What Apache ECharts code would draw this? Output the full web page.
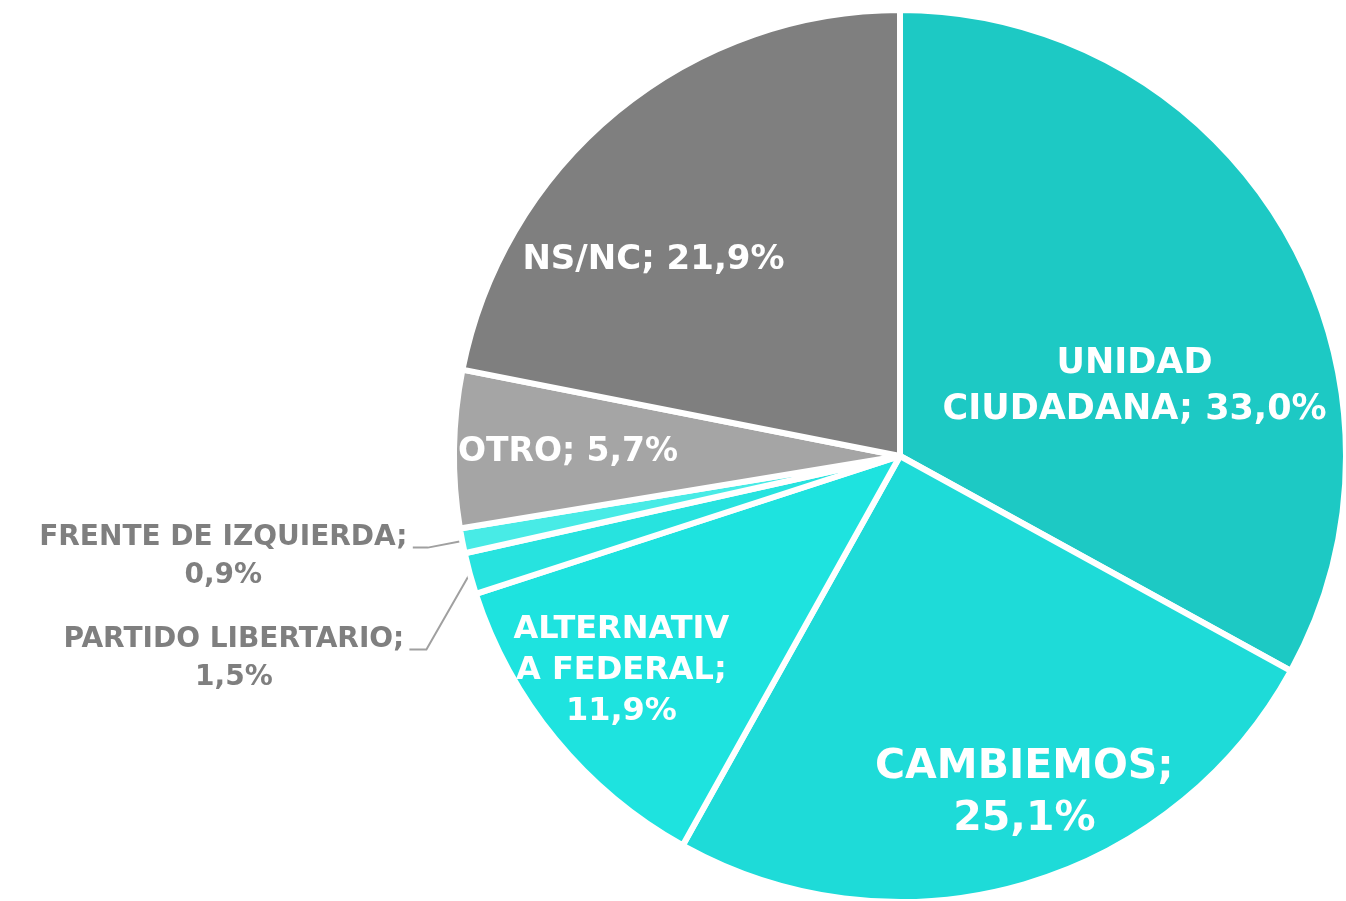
<!DOCTYPE html>
<html>
<head>
<meta charset="utf-8">
<script src="https://cdn.jsdelivr.net/npm/echarts@6/dist/echarts.min.js"></script>
<style>
html,body{margin:0;padding:0;background:#fff;}
#chart{width:1346px;height:901px;}
</style>
</head>
<body>
<div id="chart"></div>
<script>
const categories = ['UNIDAD CIUDADANA', 'CAMBIEMOS', 'ALTERNATIVA FEDERAL', 'PARTIDO LIBERTARIO', 'FRENTE DE IZQUIERDA', 'OTRO', 'NS/NC'];
const values = [33.0, 25.1, 11.9, 1.5, 0.9, 5.7, 21.9];
const labelLines = [
  ['UNIDAD', 'CIUDADANA; 33,0%'],
  ['CAMBIEMOS;', '25,1%'],
  ['ALTERNATIV', 'A FEDERAL;', '11,9%'],
  ['PARTIDO LIBERTARIO;', '1,5%'],
  ['FRENTE DE IZQUIERDA;', '0,9%'],
  ['OTRO; 5,7%'],
  ['NS/NC; 21,9%']
];
const colors = ['#1dc9c4', '#1edbd8', '#1ee3df', '#27e3df', '#48ebe6', '#a5a5a5', '#7f7f7f'];

const FONT = 'DejaVu Sans';
const OUT_SIZE = 28;

function textWidth(t, size) {
  const ctx = document.createElement('canvas').getContext('2d');
  ctx.font = 'bold ' + size + 'px "' + FONT + '"';
  return Math.ceil(ctx.measureText(t).width);
}

// inside labels: shift from the default inner position
const insideStyle = {
  0: {size: 35, lh: 46, offset: [40, 46]},
  1: {size: 41, lh: 52, offset: [62, 120]},
  2: {size: 32, lh: 41, offset: [-104, 71]},
  5: {size: 33, lh: 38, offset: [-106, 0]},
  6: {size: 34, lh: 38, offset: [-103, -21]}
};
// outside labels: leader line settings and extra vertical drop of the bend
const outsideStyle = {
  3: {length: 45, length2: 17, drop: 64},
  4: {length: 35, length2: 15, drop: 0}
};

const data = categories.map((name, i) => {
  const item = {name: name, value: values[i], itemStyle: {color: colors[i]}};
  if (insideStyle[i]) {
    const s = insideStyle[i];
    item.label = {
      position: 'inside',
      formatter: labelLines[i].join('\n'),
      color: '#ffffff',
      fontFamily: FONT,
      fontWeight: 'bold',
      fontSize: s.size,
      lineHeight: s.lh,
      align: 'center',
      offset: s.offset
    };
    item.labelLine = {show: false};
  } else {
    const o = outsideStyle[i];
    const w = Math.max.apply(null, labelLines[i].map(t => textWidth(t, OUT_SIZE)));
    item.label = {
      position: 'outside',
      overflow: 'none',
      formatter: labelLines[i].map(t => '{a|' + t + '}').join('\n'),
      rich: {
        a: {
          color: '#7f7f7f', fontFamily: FONT, fontWeight: 'bold', fontSize: OUT_SIZE,
          lineHeight: 38, width: w, align: 'center'
        }
      },
      padding: [18, 0, 0, 0]
    };
    item.labelLine = {
      show: true,
      length: o.length,
      length2: o.length2,
      lineStyle: {color: '#a0a0a0', width: 2}
    };
  }
  return item;
});

const chart = echarts.init(document.getElementById('chart'), null, {renderer: 'canvas'});
chart.setOption({
  backgroundColor: '#ffffff',
  animation: false,
  series: [{
    type: 'pie',
    center: [900, 456],
    radius: 446,
    startAngle: 90,
    clockwise: true,
    avoidLabelOverlap: false,
    itemStyle: {borderColor: '#ffffff', borderWidth: 6},
    label: {show: true},
    emphasis: {disabled: true},
    labelLayout: function (params) {
      const o = outsideStyle[params.dataIndex];
      if (!o || !o.drop || !params.labelLinePoints) {
        return {hideOverlap: false};
      }
      const p = params.labelLinePoints;
      return {
        hideOverlap: false,
        dy: o.drop,
        labelLinePoints: [
          [p[0][0], p[0][1]],
          [p[1][0], p[1][1] + o.drop],
          [p[2][0], p[2][1] + o.drop]
        ]
      };
    },
    data: data
  }]
});
</script>
</body>
</html>
